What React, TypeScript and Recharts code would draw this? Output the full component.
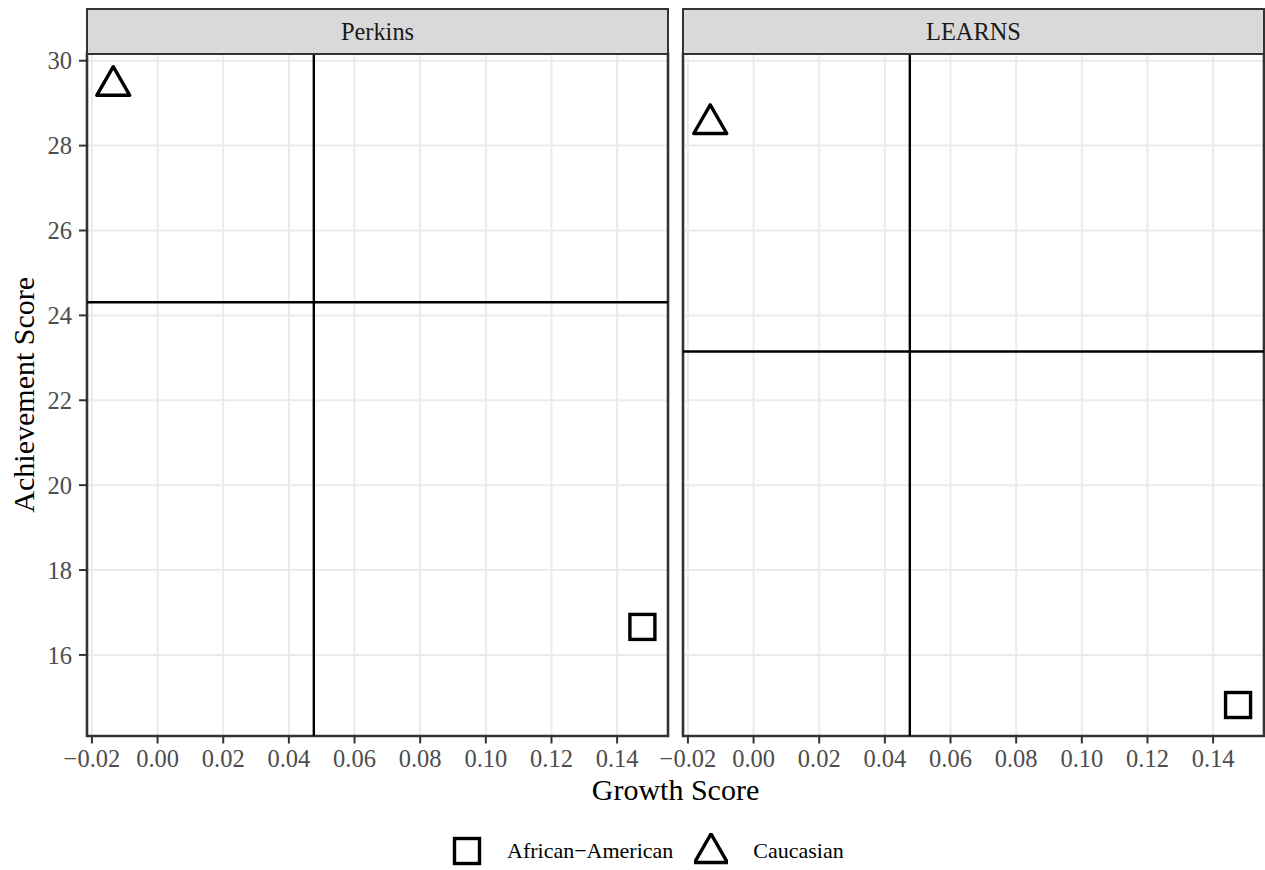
import React from "react";
import {
  CartesianGrid,
  ReferenceArea,
  ReferenceLine,
  Scatter,
  ScatterChart,
  XAxis,
  YAxis,
} from "recharts";

// facets and values
const facets = ["Perkins", "LEARNS"];
const africanAmericanGrowth = [0.1477, 0.1476];
const africanAmericanAchievement = [16.66, 14.82];
const caucasianGrowth = [-0.0135, -0.0132];
const caucasianAchievement = [29.41, 28.51];
const meanGrowth = [0.0476, 0.0476];
const meanAchievement = [24.31, 23.15];

const groups = ["African\u2212American", "Caucasian"];

const xTicks = [-0.02, 0, 0.02, 0.04, 0.06, 0.08, 0.1, 0.12, 0.14];
const yTicks = [16, 18, 20, 22, 24, 26, 28, 30];
const xDomain: [number, number] = [-0.0215, 0.1555];
const yDomain: [number, number] = [14.09, 30.17];

const FONT = '"Liberation Serif", "Times New Roman", serif';
const TICK_COLOR = "#4D4D4D";
const BORDER = "#333333";
const GRID = "#EBEBEB";

const fmtX = (v: number) =>
  v < 0 ? "\u2212" + Math.abs(v).toFixed(2) : v.toFixed(2);

function SquareShape(props: any) {
  const { cx, cy } = props;
  const h = 12.5;
  return (
    <rect
      x={cx - h}
      y={cy - h}
      width={2 * h}
      height={2 * h}
      fill="none"
      stroke="#000"
      strokeWidth={3.4}
    />
  );
}

function TriangleShape(props: any) {
  const { cx, cy } = props;
  const r = 12.25;
  const d = `M${cx},${cy - 1.555 * r} L${cx + 1.347 * r},${cy + 0.778 * r} L${cx - 1.347 * r},${cy + 0.778 * r} Z`;
  return (
    <path d={d} fill="none" stroke="#000" strokeWidth={3.4} strokeLinejoin="round" />
  );
}

function Panel({ idx, left, width, showY }: { idx: number; left: number; width: number; showY: boolean }) {
  const aa = [{ x: africanAmericanGrowth[idx], y: africanAmericanAchievement[idx] }];
  const ca = [{ x: caucasianGrowth[idx], y: caucasianAchievement[idx] }];
  return (
    <div style={{ position: "absolute", left, top: 0 }}>
      <ScatterChart
        width={width}
        height={800}
        margin={{ top: 53.5, right: showY ? 2 : 1, left: showY ? 0 : 43, bottom: 0 }}
        style={{ fontFamily: FONT }}
      >
        <CartesianGrid stroke={GRID} strokeWidth={2} />
        <XAxis
          type="number"
          dataKey="x"
          domain={xDomain}
          ticks={xTicks}
          allowDataOverflow
          interval={0}
          height={64}
          axisLine={false}
          tickLine={{ stroke: BORDER, strokeWidth: 2 }}
          tickSize={7.5}
          tickMargin={6}
          tickFormatter={fmtX}
          tick={{ fill: TICK_COLOR, fontSize: 24.5, fontFamily: FONT }}
        />
        <YAxis
          type="number"
          dataKey="y"
          domain={yDomain}
          ticks={yTicks}
          allowDataOverflow
          interval={0}
          hide={!showY}
          width={87}
          axisLine={false}
          tickLine={{ stroke: BORDER, strokeWidth: 2 }}
          tickSize={8}
          tickMargin={7}
          tick={{ fill: TICK_COLOR, fontSize: 24.5, fontFamily: FONT }}
          label={
            showY
              ? {
                  value: "Achievement Score",
                  angle: -90,
                  position: "insideLeft",
                  offset: 23,
                  style: { textAnchor: "middle", fill: "#000", fontSize: 30, fontFamily: FONT },
                }
              : undefined
          }
        />
        <ReferenceLine x={meanGrowth[idx]} stroke="#000" strokeWidth={2.4} />
        <ReferenceLine y={meanAchievement[idx]} stroke="#000" strokeWidth={2.4} />
        <Scatter name={groups[0]} data={aa} shape={SquareShape} isAnimationActive={false} />
        <Scatter name={groups[1]} data={ca} shape={TriangleShape} isAnimationActive={false} />
        <ReferenceArea
          x1={xDomain[0]}
          x2={xDomain[1]}
          y1={yDomain[0]}
          y2={yDomain[1]}
          fill="none"
          fillOpacity={0}
          stroke={BORDER}
          strokeWidth={2.6}
          ifOverflow="visible"
        />
      </ScatterChart>
    </div>
  );
}

function Strip({ label, left, width }: { label: string; left: number; width: number }) {
  return (
    <div
      style={{
        position: "absolute",
        left,
        top: 8,
        width,
        height: 47,
        boxSizing: "border-box",
        border: `2px solid ${BORDER}`,
        background: "#D9D9D9",
        color: "#1A1A1A",
        fontFamily: FONT,
        fontSize: 24.4,
        lineHeight: "43px",
        textAlign: "center",
      }}
    >
      {label}
    </div>
  );
}

function LegendKey({ kind }: { kind: number }) {
  return (
    <svg width={34} height={36} style={{ display: "block" }}>
      {kind === 0 ? <SquareShape cx={17} cy={18} /> : <TriangleShape cx={17} cy={20} />}
    </svg>
  );
}

export default function App() {
  return (
    <div
      style={{
        position: "absolute",
        left: 0,
        top: 0,
        width: 1265,
        height: 870,
        background: "#fff",
        fontFamily: FONT,
      }}
    >
      <Panel idx={0} left={0} width={670} showY />
      <Panel idx={1} left={640} width={625} showY={false} />
      <Strip label={facets[0]} left={86} width={583} />
      <Strip label={facets[1]} left={682} width={583} />
      <svg
        width={1265}
        height={870}
        style={{ position: "absolute", left: 0, top: 0, pointerEvents: "none" }}
      >
        <text x={675.5} y={800} textAnchor="middle" fontSize={30} fontFamily={FONT} fill="#000">
          Growth Score
        </text>
      </svg>
      <div
        style={{
          position: "absolute",
          left: 450,
          top: 833,
          display: "flex",
          alignItems: "center",
          fontSize: 22,
          color: "#000",
        }}
      >
        {groups.map((g, i) => (
          <React.Fragment key={g}>
            <div style={{ marginLeft: i === 0 ? 0 : 21 }}>
              <LegendKey kind={i} />
            </div>
            <span style={{ marginLeft: i === 0 ? 23 : 25 }}>{g}</span>
          </React.Fragment>
        ))}
      </div>
    </div>
  );
}
